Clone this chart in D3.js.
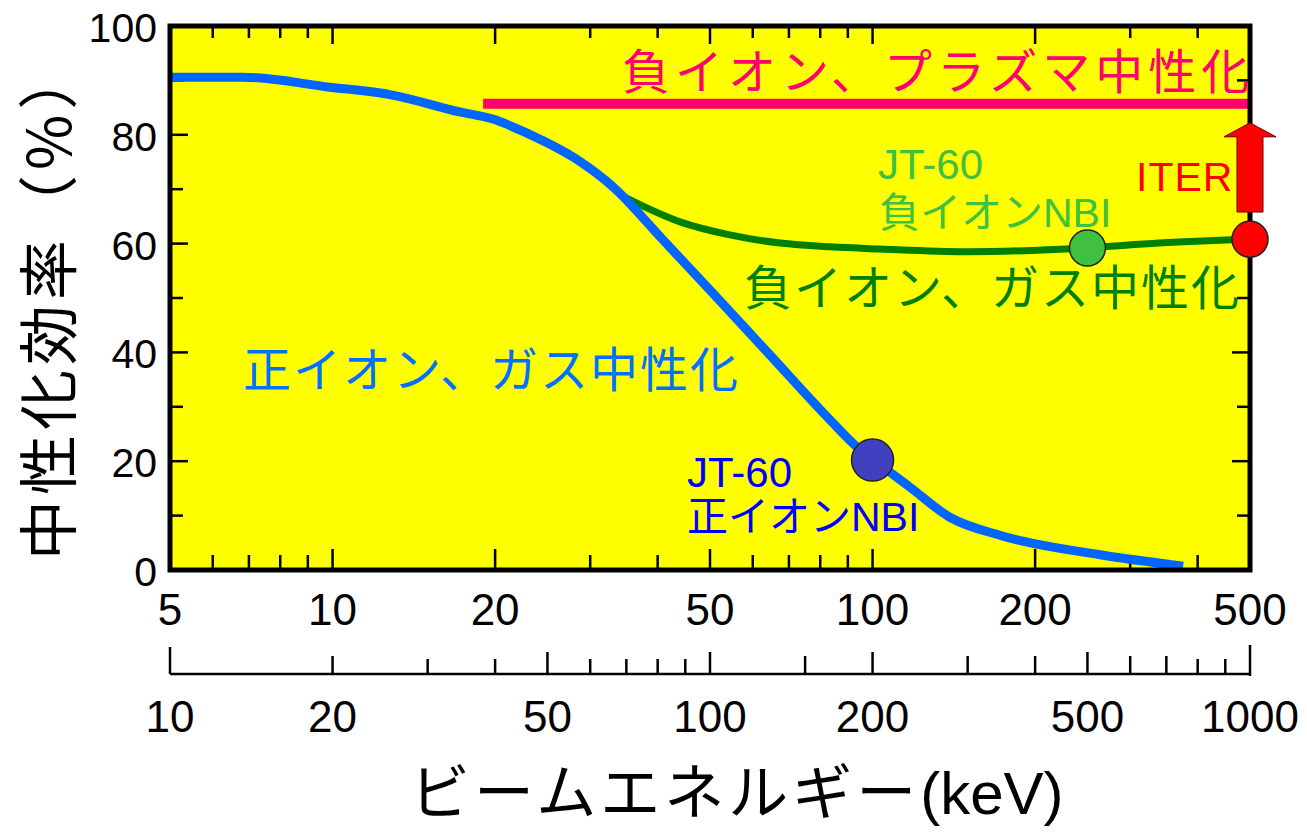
<!DOCTYPE html>
<html>
<head>
<meta charset="utf-8">
<script src="https://cdn.jsdelivr.net/npm/d3@7"></script>
<style>
html,body{margin:0;padding:0;background:#fff;}
svg{display:block;}
</style>
</head>
<body>
<svg id="chart" width="1307" height="835"></svg>
<script>
// ---------- data ----------
const topTicks = [5,6,7,8,9,10,20,30,40,50,60,70,80,90,100,200,300,400,500];
const topLabels = [5,10,20,50,100,200,500];
const bottomTicks = [10,20,30,40,50,60,70,80,90,100,150,200,300,400,500,600,700,800,900,1000];
const bottomLabels = [10,20,50,100,200,500,1000];
const yTicks = [0,10,20,30,40,50,60,70,80,90,100];
const yLabels = [0,20,40,60,80,100];

// positive ion, gas neutralization
const blueEnergy = [5,6.8,9.8,12.9,17.2,19.8,22.9,28.4,33.1,40.9,50.6,64.6,83.4,93.6,101.5,117,139,172,264,376];
const blueEff    = [90.6,90.6,88.8,87.3,84.2,82.9,80.3,75.4,70.4,60.7,50.9,39.5,27.6,22.6,19.9,15.3,9.7,6.4,2.8,0.7];
// negative ion, gas neutralization
const greenEnergy = [34,44,54.4,67.4,83.4,103,150,247,339,463,500];
const greenEff    = [69,64.0,61.6,60.1,59.4,59.0,58.5,59.2,60.1,60.7,60.8];
// negative ion, plasma neutralization
const pinkEnergy = [19,500];
const pinkEff = [85.7,85.7];
// machine points
const points = [
  {name:"JT-60 正イオンNBI", energy:100, eff:20.2, fill:"#4040c0", r:21},
  {name:"JT-60 負イオンNBI", energy:250, eff:59.2, fill:"#40c040", r:18},
  {name:"ITER", energy:500, eff:60.8, fill:"#ff0000", r:18}
];
const iterArrow = {energy:500, from:65.8, to:82.2};

// ---------- layout ----------
const svg = d3.select("#chart");
const X0 = 170, X1 = 1250, Y0 = 570, Y1 = 26;
const x = d3.scaleLog().domain([5,500]).range([X0,X1]);
const x2 = d3.scaleLog().domain([10,1000]).range([X0,X1]);
const y = d3.scaleLinear().domain([0,100]).range([Y0,Y1]);

const latin = "'Liberation Sans', Arial, sans-serif";
const jp = "'Liberation Sans', 'Noto Sans CJK JP', sans-serif";
const jpOnly = "'Noto Sans CJK JP', sans-serif";

// plot background
svg.append("rect").attr("x",X0).attr("y",Y1).attr("width",X1-X0).attr("height",Y0-Y1).attr("fill","#ffff00");

// ticks inside plot
const tk = svg.append("g").attr("stroke","#000").attr("stroke-width",2.5);
const xTickLen = v => ([10,20,50,100,200].includes(v) ? 21 : 15);
topTicks.filter(v=>v>5 && v<500).forEach(v=>{
  tk.append("line").attr("x1",x(v)).attr("x2",x(v)).attr("y1",Y0).attr("y2",Y0-xTickLen(v));
  tk.append("line").attr("x1",x(v)).attr("x2",x(v)).attr("y1",Y1).attr("y2",Y1+xTickLen(v)-3);
});
yTicks.filter(v=>v>0 && v<100).forEach(v=>{
  const L = v%20===0 ? 18 : 13;
  tk.append("line").attr("x1",X0).attr("x2",X0+L).attr("y1",y(v)).attr("y2",y(v));
  tk.append("line").attr("x1",X1).attr("x2",X1-L).attr("y1",y(v)).attr("y2",y(v));
});

// curves
const line = d3.line().x(d=>x(d[0])).y(d=>y(d[1])).curve(d3.curveMonotoneX);
svg.append("path").datum(pinkEnergy.map((e,i)=>[e,pinkEff[i]]))
  .attr("d",d3.line().x(d=>x(d[0])).y(d=>y(d[1])))
  .attr("fill","none").attr("stroke","#ff0070").attr("stroke-width",10);
svg.append("path").datum(greenEnergy.map((e,i)=>[e,greenEff[i]]))
  .attr("d",line).attr("fill","none").attr("stroke","#008000").attr("stroke-width",7);
svg.append("path").datum(blueEnergy.map((e,i)=>[e,blueEff[i]]))
  .attr("d",line).attr("fill","none").attr("stroke","#0066ff").attr("stroke-width",9);

// frame
svg.append("rect").attr("x",X0).attr("y",Y1).attr("width",X1-X0).attr("height",Y0-Y1)
  .attr("fill","none").attr("stroke","#000").attr("stroke-width",5);

// ITER arrow
{
  const ax = x(iterArrow.energy), yb = y(iterArrow.from), yt = y(iterArrow.to);
  const sw = 13, hw = 26, hh = 14;
  const p = d3.path();
  p.moveTo(ax-sw, yb); p.lineTo(ax-sw, yt+hh); p.lineTo(ax-hw, yt+hh); p.lineTo(ax, yt);
  p.lineTo(ax+hw, yt+hh); p.lineTo(ax+sw, yt+hh); p.lineTo(ax+sw, yb); p.closePath();
  svg.append("path").attr("d",p.toString()).attr("fill","#ff0000").attr("stroke","#600").attr("stroke-width",1);
}

// points
svg.selectAll("circle.pt").data(points).join("circle").attr("class","pt")
  .attr("cx",d=>x(d.energy)).attr("cy",d=>y(d.eff)).attr("r",d=>d.r)
  .attr("fill",d=>d.fill).attr("stroke","#222").attr("stroke-width",1.5);

// y tick labels
svg.selectAll("text.yl").data(yLabels).join("text").attr("class","yl")
  .attr("x",157).attr("y",d=>y(d)+2).attr("text-anchor","end").attr("dominant-baseline","central")
  .attr("font-family",latin).attr("font-size",41).text(d=>d);

// top-energy labels
svg.selectAll("text.xl").data(topLabels).join("text").attr("class","xl")
  .attr("x",d=>x(d)).attr("y",609).attr("text-anchor","middle").attr("dominant-baseline","central")
  .attr("font-family",latin).attr("font-size",44).text(d=>d);

// second energy axis
const ax2 = svg.append("g").attr("stroke","#000").attr("stroke-width",2.5);
ax2.append("line").attr("x1",X0).attr("x2",X1).attr("y1",674).attr("y2",674);
const t2 = v => (v===10 ? 27 : v===1000 ? 29 : [50,100,200,500].includes(v) ? 22 : [20,150,300,400,600,700].includes(v) ? 18 : 15);
bottomTicks.forEach(v=>{
  ax2.append("line").attr("x1",x2(v)).attr("x2",x2(v)).attr("y1",v===1000?676:674).attr("y2",674-t2(v));
});
svg.selectAll("text.xl2").data(bottomLabels).join("text").attr("class","xl2")
  .attr("x",d=>x2(d)).attr("y",716).attr("text-anchor","middle").attr("dominant-baseline","central")
  .attr("font-family",latin).attr("font-size",44).text(d=>d);

// axis titles
svg.append("text").attr("transform","translate(44,560) rotate(-90)")
  .attr("text-anchor","start").attr("dominant-baseline","central")
  .attr("font-family",jpOnly).attr("font-size",60).attr("letter-spacing",5)
  .text("中性化効率（%）");
const xt = svg.append("text").attr("x",410).attr("y",814).attr("font-size",60);
xt.append("tspan").attr("font-family",jpOnly).attr("letter-spacing",4).text("ビームエネルギー");
xt.append("tspan").attr("font-family",latin).text("(keV)");

// annotations
function label(txt, x0, yc, size, color, ls){
  svg.append("text").attr("x",x0).attr("y",yc).attr("dominant-baseline","central")
    .attr("font-family",jp).attr("font-size",size).attr("fill",color)
    .attr("letter-spacing",ls||0).text(txt);
}
label("負イオン、プラズマ中性化", 622, 72, 48, "#ff0070", 5);
label("負イオン、ガス中性化", 744, 288, 48, "#008000", 2);
label("正イオン、ガス中性化", 243, 370, 48, "#0070ff", 2);
label("JT-60", 878, 164, 42, "#40c040");
label("負イオンNBI", 879, 213, 41, "#40c040");
label("JT-60", 687, 472, 42, "#0000ff");
label("正イオンNBI", 687, 517, 41, "#0000ff");
label("ITER", 1136, 177, 41, "#ff0000", 1);
</script>
</body>
</html>
